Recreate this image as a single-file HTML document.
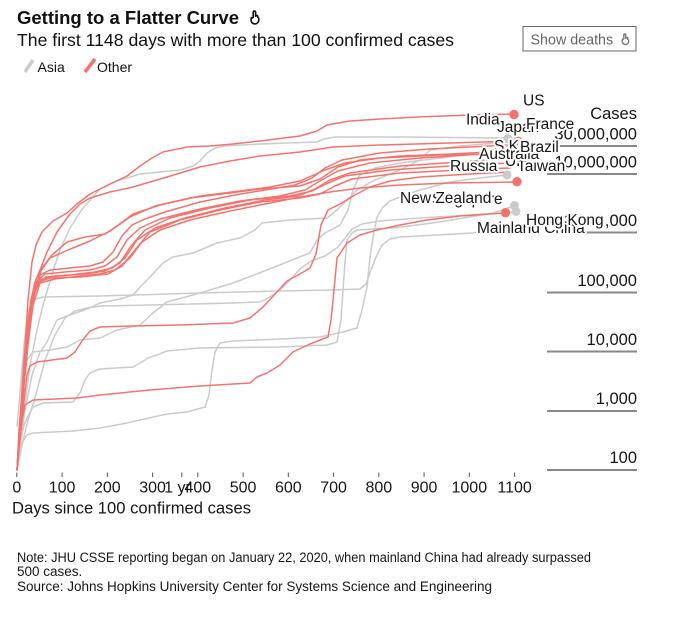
<!DOCTYPE html>
<html>
<head>
<meta charset="utf-8">
<style>
  html,body{margin:0;padding:0;background:#fff;}
  body{width:680px;height:618px;overflow:hidden;}
  svg{display:block;font-family:"Liberation Sans",Arial,sans-serif;}
  .g{fill:none;stroke:#cbcbcb;stroke-width:1.5;stroke-linejoin:round;stroke-linecap:round;}
  .r{fill:none;stroke:#f5736d;stroke-width:1.5;stroke-linejoin:round;stroke-linecap:round;}
  .lab{font-size:15.5px;fill:#161616;stroke:#fff;stroke-width:4px;stroke-linejoin:round;paint-order:stroke;}
  .ax{font-size:16.5px;fill:#161616;}
  .xt{font-size:16px;fill:#161616;text-anchor:middle;}
  .note{font-size:13.5px;fill:#161616;}
</style>
</head>
<body>
<svg width="680" height="618" viewBox="0 0 680 618" xmlns="http://www.w3.org/2000/svg">
  <!-- Title -->
  <text x="17" y="24" font-size="18.5" font-weight="bold" fill="#111" textLength="222" lengthAdjust="spacingAndGlyphs">Getting to a Flatter Curve</text>
  <g fill="none" stroke="#111" stroke-width="1.6" stroke-linejoin="round">
    <path d="M253.2,18 V12.3 a1.2,1.2 0 0 1 2.4,0 V17 M255.6,16.5 a1.1,1.1 0 0 1 2.2,0 V18 M251,19.5 a3.9,3.9 0 0 0 3.9,4.4 a3.9,3.9 0 0 0 3.9,-4 V17.5 M253.2,18 L251.4,17.6 L251,19.5"/>
  </g>
  <text x="17" y="46" font-size="17.5" fill="#111" textLength="437" lengthAdjust="spacingAndGlyphs">The first 1148 days with more than 100 confirmed cases</text>

  <!-- Legend -->
  <line x1="25" y1="72" x2="33" y2="60" stroke="#cbcbcb" stroke-width="3.5"/>
  <text x="37.5" y="72" font-size="14" fill="#111">Asia</text>
  <line x1="85" y1="72" x2="95" y2="59" stroke="#f5736d" stroke-width="3.5"/>
  <text x="97" y="72" font-size="14" fill="#111">Other</text>

  <!-- Show deaths button -->
  <rect x="523" y="26.5" width="113" height="24.5" fill="#fff" stroke="#666" stroke-width="1"/>
  <text x="530.5" y="44.5" font-size="14.3" fill="#666">Show deaths</text>
  <g fill="none" stroke="#777" stroke-width="1.4" stroke-linejoin="round">
    <path d="M623.8,39.5 V35 a1,1 0 0 1 2,0 V39 M625.8,38.5 a1,1 0 0 1 2,0 V40 M622.2,41 a3.2,3.2 0 0 0 3.2,3.5 a3.2,3.2 0 0 0 3.2,-3.3 V39.5 M623.8,39.5 L622.5,39.2 L622.2,41"/>
  </g>

  <!-- Y grid lines (short, right side) -->
  <g stroke="#888" stroke-width="2">
    <line x1="547" y1="146" x2="637" y2="146"/>
    <line x1="547" y1="174" x2="637" y2="174"/>
    <line x1="547" y1="232.5" x2="637" y2="232.5"/>
    <line x1="547" y1="292.5" x2="637" y2="292.5"/>
    <line x1="547" y1="351.5" x2="637" y2="351.5"/>
    <line x1="547" y1="411" x2="637" y2="411"/>
    <line x1="547" y1="470" x2="637" y2="470"/>
  </g>
  <g class="ax" text-anchor="end">
    <text x="637" y="119">Cases</text>
    <text x="637" y="139.5">30,000,000</text>
    <text x="637" y="167.5">10,000,000</text>
    <text x="637" y="226">1,000,000</text>
    <text x="637" y="286">100,000</text>
    <text x="637" y="345">10,000</text>
    <text x="637" y="404">1,000</text>
    <text x="637" y="463">100</text>
  </g>

  <!-- X ticks -->
  <g stroke="#555" stroke-width="1">
    <line x1="16.8" y1="472.5" x2="16.8" y2="477"/>
    <line x1="62.1" y1="472.5" x2="62.1" y2="477"/>
    <line x1="107.3" y1="472.5" x2="107.3" y2="477"/>
    <line x1="152.6" y1="472.5" x2="152.6" y2="477"/>
    <line x1="181.8" y1="472.5" x2="181.8" y2="477"/>
    <line x1="197.8" y1="472.5" x2="197.8" y2="477"/>
    <line x1="243.1" y1="472.5" x2="243.1" y2="477"/>
    <line x1="288.3" y1="472.5" x2="288.3" y2="477"/>
    <line x1="333.6" y1="472.5" x2="333.6" y2="477"/>
    <line x1="378.8" y1="472.5" x2="378.8" y2="477"/>
    <line x1="424.1" y1="472.5" x2="424.1" y2="477"/>
    <line x1="469.3" y1="472.5" x2="469.3" y2="477"/>
    <line x1="514.6" y1="472.5" x2="514.6" y2="477"/>
  </g>
  <g class="xt">
    <text x="16.8" y="492.5">0</text>
    <text x="62.1" y="492.5">100</text>
    <text x="107.3" y="492.5">200</text>
    <text x="152.6" y="492.5">300</text>
    <text x="177.5" y="492.5">1 yr</text>
    <text x="197.8" y="492.5">400</text>
    <text x="243.1" y="492.5">500</text>
    <text x="288.3" y="492.5">600</text>
    <text x="333.6" y="492.5">700</text>
    <text x="378.8" y="492.5">800</text>
    <text x="424.1" y="492.5">900</text>
    <text x="469.3" y="492.5">1000</text>
    <text x="514.6" y="492.5">1100</text>
  </g>
  <text x="12" y="513.5" font-size="16.5" fill="#161616" textLength="239" lengthAdjust="spacingAndGlyphs">Days since 100 confirmed cases</text>

  <!-- Grey (Asia) lines -->
  <path class="g" d="M17,470 L19,450 L22,425 L26,395 L31,360 L37,330 L43,305 L48,288 L54,268 L60,250 L70,228 L83,208 L100,189 L117,181 L140,174 L160,172 L180,170 L193,166 L200,161 L207,153 L215,148 L225,146 L260,144 L317,142 L324,139 L335,137 L400,137 L508,138"/>
  <path class="g" d="M17,470 L20,445 L25,410 L32,375 L40,352 L47,342 L57,320 L70,315 L87,309 L100,303 L120,299 L133,295 L142,285 L150,277 L163,263 L173,257 L193,253 L205,248 L217,243 L240,238 L255,230 L262,223 L290,220 L327,218 L337,210 L347,200 L357,190 L375,180 L400,170 L420,160 L430,150 L460,146 L508,142"/>
  <path class="g" d="M17,470 L20,430 L23,390 L27,360 L33,352 L50,350 L67,347 L80,340 L100,338 L117,330 L140,325 L153,313 L167,302 L200,293 L233,283 L267,270 L287,262 L310,253 L317,240 L325,233 L340,225 L348,210 L353,190 L360,175 L375,168 L400,163 L440,158 L480,153 L506,150"/>
  <path class="g" d="M17,470 L19,455 L22,443 L27,435 L33,433 L73,431 L100,428 L127,423 L140,420 L167,414 L187,412 L205,407 L209,395 L212,370 L215,352 L220,343 L233,341 L280,339 L320,337 L343,332 L357,328 L362,310 L367,287 L370,257 L374,232 L377,217 L383,207 L390,201 L400,197 L420,190 L450,182 L480,178 L507,175"/>
  <path class="g" d="M17,470 L20,445 L24,425 L30,412 L33,407 L43,403 L73,402 L80,393 L85,380 L90,373 L100,369 L133,367 L140,363 L148,358 L157,355 L167,351 L200,348 L280,347 L327,345 L337,342 L341,320 L343,290 L345,262 L347,240 L352,233 L357,230 L393,228 L440,222 L493,213 L514,206"/>
  <path class="g" d="M17,470 L22,445 L28,420 L35,398 L45,360 L55,335 L65,318 L75,311 L87,308 L100,306 L150,305 L233,303 L260,302 L270,297 L280,290 L290,280 L300,269 L311,261 L325,256 L338,247 L346,237 L352,229 L362,224 L380,221 L420,218 L470,215 L516,212"/>
  <path class="g" d="M17,426 L19,405 L21,380 L24,345 L27,318 L31,303 L36,299 L43,297 L100,296 L200,293 L280,291 L330,290 L360,289 L366,284 L371,270 L376,257 L382,245 L390,239 L400,237 L473,233 L493,228 L515,225 L532,224"/>

  <!-- Red (Other) lines -->
  <path class="r" d="M17,470 L19,445 L22,420 L25,405 L33,400 L77,398 L100,395 L150,390 L200,386 L250,383 L257,377 L267,373 L280,365 L293,352 L310,344 L328,337 L331,320 L334,290 L337,258 L347,243 L360,235 L377,230 L400,225 L427,220 L460,216 L505,213"/>
  <path class="r" d="M17,470 L20,440 L24,400 L27,375 L30,366 L37,362 L67,358 L75,352 L82,341 L90,331 L100,327 L133,326 L180,325 L233,323 L250,318 L263,307 L277,292 L287,281 L300,274 L310,268 L316,254 L321,225 L328,210 L340,204 L355,195 L370,187 L390,181 L420,177 L470,174 L510,172"/>
  <path class="r" d="M17,470 L19,440 L22,400 L25,355 L29,315 L34,290 L40,275 L50,270 L70,268 L90,266 L103,262 L113,252 L122,236 L132,225 L145,219 L165,212 L200,202 L235,195 L265,190 L295,185 L312,178 L325,168 L342,160 L380,153 L430,149 L510,145"/>
  <path class="r" d="M17,470 L20,425 L23,380 L27,335 L31,300 L36,282 L45,274 L65,272 L90,270 L105,266 L117,257 L127,240 L140,228 L160,219 L200,209 L240,201 L280,196 L305,190 L320,181 L338,171 L370,163 L420,158 L512,152"/>
  <path class="r" d="M17,470 L21,420 L25,370 L30,320 L34,295 L40,280 L55,276 L85,274 L105,271 L120,263 L131,246 L145,230 L170,218 L210,208 L250,200 L290,196 L312,191 L328,183 L345,176 L390,170 L450,166 L510,163"/>
  <path class="r" d="M17,470 L19,445 L23,395 L28,340 L33,300 L38,282 L50,278 L80,277 L108,274 L122,266 L135,250 L150,232 L180,220 L220,210 L260,202 L300,198 L320,194 L335,186 L352,179 L400,173 L460,170 L510,168"/>
  <path class="r" d="M17,470 L20,430 L24,385 L28,345 L33,305 L40,283 L55,279 L80,276 L100,274 L115,270 L130,258 L142,242 L160,230 L190,220 L230,211 L270,203 L300,197 L330,192 L360,188 L400,185 L450,183 L517,182"/>
  <path class="r" d="M17,470 L21,410 L26,350 L32,300 L40,272 L50,258 L68,250 L90,241 L110,231 L130,217 L155,206 L190,198 L230,193 L260,189 L300,186 L320,179 L338,167 L360,160 L400,156 L450,154 L510,151"/>
  <path class="r" d="M17,470 L22,400 L28,330 L35,290 L42,268 L52,255 L67,242 L85,237 L105,234 L117,226 L133,214 L160,205 L200,196 L240,191 L270,187 L300,181 L325,170 L345,163 L380,158 L440,155 L510,154"/>
  <path class="r" d="M17,470 L20,420 L24,360 L29,315 L36,285 L46,277 L70,275 L95,272 L112,268 L125,258 L137,240 L155,228 L185,218 L225,208 L265,200 L298,196 L315,189 L330,180 L350,173 L400,166 L460,162 L515,158"/>
  <path class="r" d="M17,470 L20,420 L24,375 L28,330 L31,300 L35,282 L40,270 L47,252 L57,232 L70,214 L80,204 L90,198 L110,192 L133,187 L167,177 L200,167 L230,161 L260,156 L300,152 L333,147 L380,145 L450,143 L517,141"/>
  <path class="r" d="M17,470 L19,430 L22,395 L25,350 L28,300 L32,262 L36,245 L42,232 L53,221 L67,213 L77,204 L90,194 L110,184 L127,176 L140,166 L152,158 L163,152 L187,147 L210,146 L233,144 L260,141 L300,136 L317,131 L327,125 L350,121 L380,119 L417,117 L470,115 L514,114"/>

  <!-- End dots -->
  <g fill="#cbcbcb">
    <circle cx="508" cy="138.5" r="4.5"/>
    <circle cx="506" cy="149.5" r="4.5"/>
    <circle cx="507" cy="175" r="4.5"/>
    <circle cx="514.5" cy="205.5" r="4.5"/>
    <circle cx="516" cy="211.5" r="4.5"/>
  </g>
  <g fill="#f5736d">
    <circle cx="514" cy="114.5" r="4.7"/>
    <circle cx="518" cy="141" r="4.5"/>
    <circle cx="512" cy="145" r="4.5"/>
    <circle cx="510" cy="153" r="4.5"/>
    <circle cx="517" cy="181.7" r="4.7"/>
    <circle cx="505.5" cy="212.7" r="4.7"/>
  </g>

  <!-- Country labels (haloed) -->
  <text class="lab" x="477" y="233">Mainland China</text>
  <text class="lab" x="526" y="225">Hong Kong</text>
  <text class="lab" x="432" y="204">Singapore</text>
  <text class="lab" x="400" y="203">New Zealand</text>
  <text class="lab" x="505" y="166">UK</text>
  <text class="lab" x="450" y="171">Russia</text>
  <text class="lab" x="517" y="171">Taiwan</text>
  <text class="lab" x="494" y="151">S.Korea</text>
  <text class="lab" x="479" y="159">Australia</text>
  <text class="lab" x="520" y="152">Brazil</text>
  <text class="lab" x="497" y="132">Japan</text>
  <text class="lab" x="466" y="124.5">India</text>
  <text class="lab" x="526" y="129">France</text>
  <text class="lab" x="523" y="105.5">US</text>

  <!-- Notes -->
  <text class="note" x="17" y="562" textLength="574" lengthAdjust="spacingAndGlyphs">Note: JHU CSSE reporting began on January 22, 2020, when mainland China had already surpassed</text>
  <text class="note" x="17" y="576">500 cases.</text>
  <text class="note" x="17" y="591">Source: Johns Hopkins University Center for Systems Science and Engineering</text>
</svg>
</body>
</html>
